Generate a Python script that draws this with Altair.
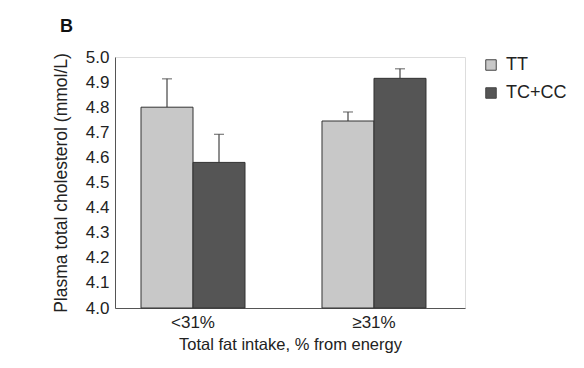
import altair as alt
import pandas as pd

groups = ["<31%", "≥31%"]
genotypes = ["TT", "TC+CC"]
means = [[4.80, 4.58], [4.745, 4.915]]
ses = [[0.113, 0.112], [0.036, 0.038]]
yticks = [4.0, 4.1, 4.2, 4.3, 4.4, 4.5, 4.6, 4.7, 4.8, 4.9, 5.0]

rows = []
for gi, g in enumerate(groups):
    for ki, k in enumerate(genotypes):
        rows.append({"group": g, "genotype": k, "mean": means[gi][ki],
                     "upper": means[gi][ki] + ses[gi][ki], "base": 4.0})
df = pd.DataFrame(rows)

FONT = "Liberation Sans"

x = alt.X("group:N", sort=groups,
          scale=alt.Scale(paddingInner=0.4254, paddingOuter=0.1796, align=0.4),
          axis=alt.Axis(title="Total fat intake, % from energy", labelAngle=0,
                        ticks=False, domainColor="#555555", labelFontSize=17,
                        titleFontSize=16.5, labelPadding=6, titlePadding=6,
                        labelFont=FONT, titleFont=FONT, labelColor="#222222",
                        titleColor="#222222", titleFontWeight="normal"))
xo = alt.XOffset("genotype:N", sort=genotypes, scale=alt.Scale(paddingInner=0, paddingOuter=0))
yscale = alt.Scale(domain=[4.0, 5.0], zero=False, nice=False)
yaxis = alt.Axis(title="Plasma total cholesterol (mmol/L)", values=yticks,
                 format=".1f", ticks=False, grid=False, domainColor="#555555",
                 labelOverlap=False, labelFontSize=17, titleFontSize=17.5,
                 labelPadding=6, titlePadding=15, labelFont=FONT, titleFont=FONT,
                 labelColor="#222222", titleColor="#222222",
                 titleFontWeight="normal")
y_mean = alt.Y("mean:Q", scale=yscale, axis=yaxis)
y_upper = alt.Y("upper:Q", scale=yscale, axis=yaxis)

color = alt.Color("genotype:N", sort=genotypes,
                  scale=alt.Scale(domain=genotypes, range=["#c8c8c8", "#555555"]),
                  legend=alt.Legend(title=None, orient="none", legendX=367, legendY=-1,
                                    symbolType="square", symbolSize=110,
                                    symbolStrokeColor="#444444", symbolStrokeWidth=1,
                                    labelFontSize=18, labelFont=FONT, labelColor="#222222",
                                    rowPadding=10, labelOffset=6))

base = alt.Chart(df)

err = base.mark_rule(color="#444444", strokeWidth=1.2).encode(
    x=x, xOffset=xo, y=y_mean, y2="upper:Q")
cap = base.mark_tick(color="#444444", thickness=1.2, size=10, orient="horizontal").encode(
    x=x, xOffset=xo, y=y_upper)
bars = base.mark_bar(stroke="#333333", strokeWidth=1).encode(
    x=x, xOffset=xo, y=y_mean, y2="base:Q", color=color)

title = alt.Chart(pd.DataFrame({"t": ["B"]})).mark_text(
    font=FONT, fontSize=18, fontWeight="bold", align="left", baseline="middle",
    color="#111111").encode(text="t:N", x=alt.value(-55), y=alt.value(-30))

chart = alt.layer(err, cap, bars, title).properties(
    width=350, height=251,
    autosize=alt.AutoSizeParams(type="none"),
    padding={"left": 107, "top": 49, "right": 110, "bottom": 60},
).configure_view(stroke=None).configure(background="white")

chart.save("out.html", embed_options={"renderer": "svg", "actions": False})
